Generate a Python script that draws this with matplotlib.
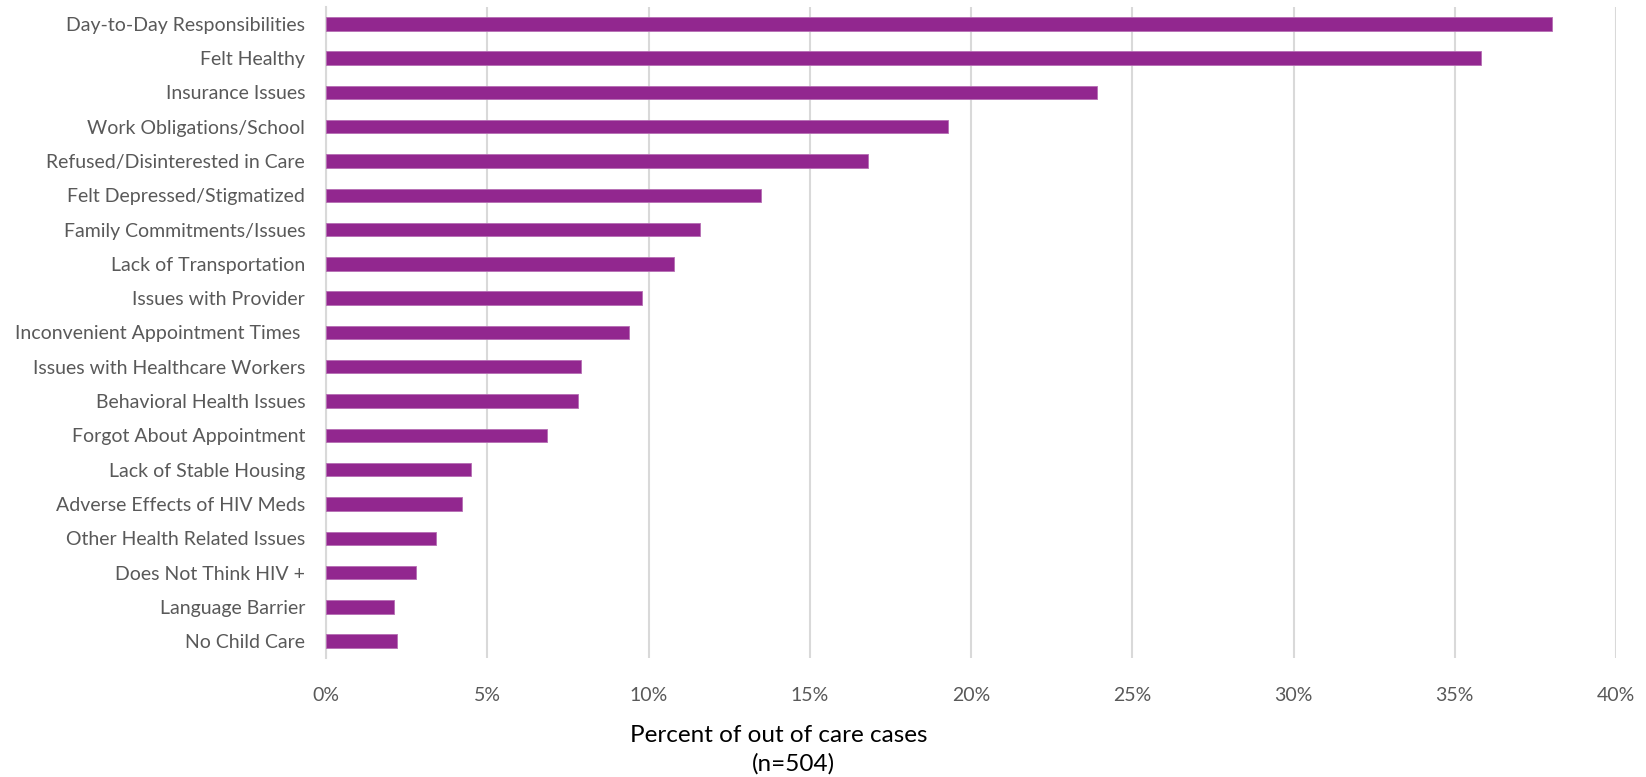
import matplotlib
matplotlib.use("Agg")
import matplotlib.pyplot as plt
from matplotlib.ticker import FuncFormatter

reasons = [
    "Day-to-Day Responsibilities",
    "Felt Healthy",
    "Insurance Issues",
    "Work Obligations/School",
    "Refused/Disinterested in Care",
    "Felt Depressed/Stigmatized",
    "Family Commitments/Issues",
    "Lack of Transportation",
    "Issues with Provider",
    "Inconvenient Appointment Times ",
    "Issues with Healthcare Workers",
    "Behavioral Health Issues",
    "Forgot About Appointment",
    "Lack of Stable Housing",
    "Adverse Effects of HIV Meds",
    "Other Health Related Issues",
    "Does Not Think HIV +",
    "Language Barrier",
    "No Child Care",
]
percent = [38.0, 35.8, 23.9, 19.3, 16.8, 13.5, 11.6, 10.8, 9.8, 9.4,
           7.9, 7.8, 6.85, 4.5, 4.2, 3.4, 2.8, 2.1, 2.2]
x_ticks = [0, 5, 10, 15, 20, 25, 30, 35, 40]

plt.rcParams["font.family"] = ["Lato", "DejaVu Sans"]

fig = plt.figure(figsize=(16.46, 7.77), dpi=100)
ax = fig.add_axes([0.1981, 0.1528, 0.7837, 0.8386])

ypos = list(range(len(reasons)))
ax.barh(ypos, percent, height=0.39, color="#92278F",
        edgecolor="#B56DB3", linewidth=0.6, zorder=3)

ax.set_ylim(len(reasons) - 0.5, -0.5)
ax.set_xlim(0, 40)
ax.set_yticks(ypos)
ax.set_yticklabels(reasons)
ax.set_xticks(x_ticks)
ax.xaxis.set_major_formatter(FuncFormatter(lambda v, p: f"{v:.0f}%"))

ax.grid(axis="x", color="#D9D9D9", linewidth=1.5, zorder=0)
ax.grid(axis="y", visible=False)
for side in ("top", "right", "bottom"):
    ax.spines[side].set_visible(False)
ax.spines["left"].set_color("#D9D9D9")
ax.spines["left"].set_linewidth(1.5)

ax.tick_params(axis="both", length=0, colors="#595959", labelsize=14)
ax.tick_params(axis="y", pad=15)
ax.tick_params(axis="x", pad=21)

fig.text(0.4733, 0.053, "Percent of out of care cases", ha="center",
         va="center", fontsize=17.5, color="#000000")
fig.text(0.4818, 0.017, "(n=504)", ha="center", va="center",
         fontsize=17.5, color="#000000")

fig.savefig("out.png", dpi=100, facecolor="white")
